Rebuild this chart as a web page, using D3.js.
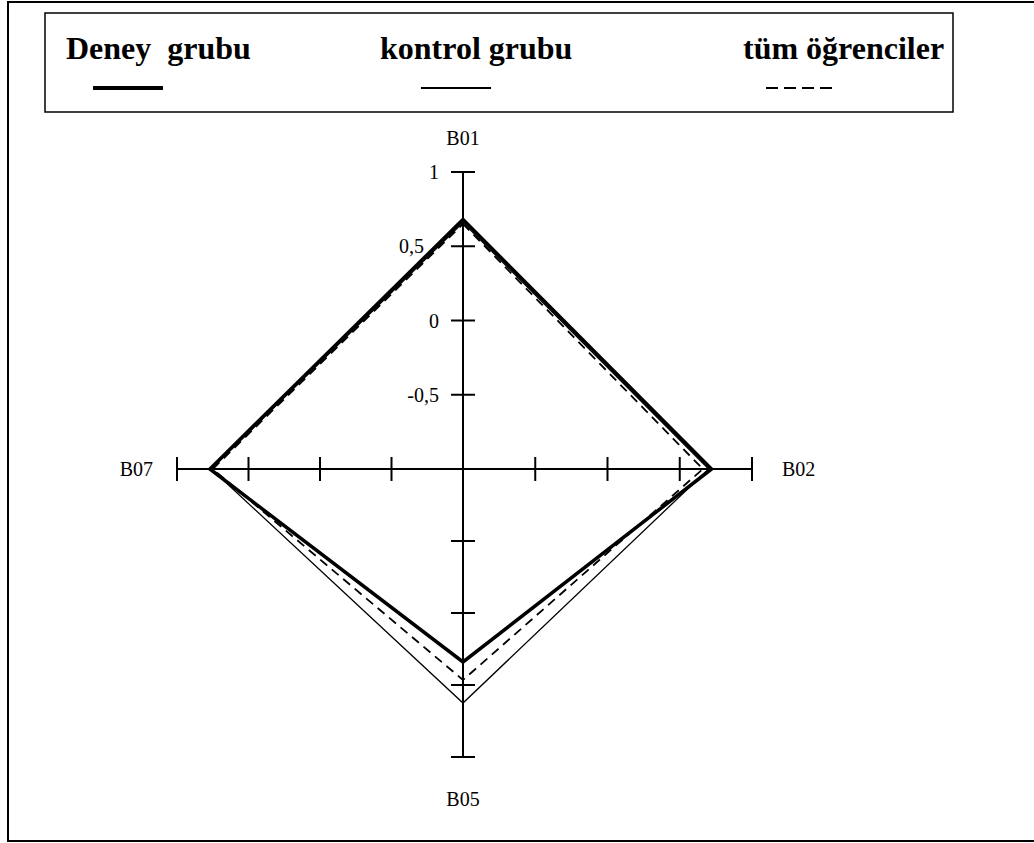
<!DOCTYPE html>
<html>
<head>
<meta charset="utf-8">
<script src="https://cdnjs.cloudflare.com/ajax/libs/d3/7.8.5/d3.min.js"></script>
<style>
  body { margin: 0; background: #fff; }
  text { font-family: "Liberation Serif", "Times New Roman", serif; fill: #000; }
</style>
</head>
<body>
<div id="chart"></div>
<script>
// data
var axesNames = ["B01", "B02", "B05", "B07"];
var seriesNames = ["Deney  grubu", "kontrol grubu", "tüm öğrenciler"];
var deney = [0.68, 0.72, 0.34, 0.77];
var kontrol = [0.66, 0.70, 0.625, 0.76];
var tum = [0.65, 0.66, 0.465, 0.75];
var tickValues = [-0.5, 0, 0.5, 1];
var tickLabels = ["-0,5", "0", "0,5", "1"];

var width = 1034, height = 843;
var cx = 463, cy = 469;
// axis lengths differ a little per direction in the original
var axisLen = [297, 289, 288, 286];
var angles = [0, 90, 180, 270];

var svg = d3.select("#chart").append("svg")
    .attr("width", width)
    .attr("height", height);

// outer frame
svg.append("rect")
    .attr("x", 8).attr("y", 2)
    .attr("width", 1040).attr("height", 839)
    .attr("fill", "none").attr("stroke", "#000").attr("stroke-width", 2);

// legend box
svg.append("rect")
    .attr("x", 45).attr("y", 13)
    .attr("width", 908).attr("height", 99)
    .attr("fill", "none").attr("stroke", "#000").attr("stroke-width", 1.5);

var legendItems = [
  { name: seriesNames[0], tx: 66, lx: 93, sw: 4, dash: null },
  { name: seriesNames[1], tx: 380, lx: 421, sw: 1.8, dash: null },
  { name: seriesNames[2], tx: 743, lx: 766, sw: 1.8, dash: "12,6" }
];
var leg = svg.append("g").selectAll("g")
    .data(legendItems)
    .enter().append("g");
leg.append("text")
    .attr("x", function(d) { return d.tx; })
    .attr("y", 59)
    .attr("font-size", 32)
    .attr("font-weight", "bold")
    .style("white-space", "pre")
    .text(function(d) { return d.name; });
leg.append("line")
    .attr("x1", function(d) { return d.lx; })
    .attr("x2", function(d) { return d.lx + 70; })
    .attr("y1", 88).attr("y2", 88)
    .attr("stroke", "#000")
    .attr("stroke-width", function(d) { return d.sw; })
    .attr("stroke-dasharray", function(d) { return d.dash; });

// one radial scale per axis, domain -1..1 from center outwards
var scales = axisLen.map(function(len) {
  return d3.scaleLinear().domain([-1, 1]).range([0, len]);
});
function pt(i, v) {
  var a = angles[i] * Math.PI / 180;
  var r = scales[i](v);
  return [cx + r * Math.sin(a), cy - r * Math.cos(a)];
}

var g = svg.append("g");

// axis lines with ticks
var allTicks = [-0.5, 0, 0.5, 1];
axesNames.forEach(function(name, i) {
  var end = pt(i, 1);
  g.append("line")
      .attr("x1", cx).attr("y1", cy)
      .attr("x2", end[0]).attr("y2", end[1])
      .attr("stroke", "#000").attr("stroke-width", 2);
  var vertical = (angles[i] % 180 == 0);
  allTicks.forEach(function(t) {
    var p = pt(i, t);
    g.append("line")
        .attr("x1", vertical ? p[0] - 12 : p[0])
        .attr("x2", vertical ? p[0] + 12 : p[0])
        .attr("y1", vertical ? p[1] : p[1] - 12)
        .attr("y2", vertical ? p[1] : p[1] + 12)
        .attr("stroke", "#000").attr("stroke-width", 2);
  });
});

// tick labels only on the top axis
g.selectAll(".tlab")
    .data(tickValues)
    .enter().append("text")
    .attr("class", "tlab")
    .attr("x", function(d, i) { return d == 0.5 ? 424 : 439; })
    .attr("y", function(d) { return pt(0, d)[1] + 7; })
    .attr("text-anchor", "end")
    .attr("font-size", 20)
    .text(function(d, i) { return tickLabels[i]; });

// axis names
var namePos = [[463, 145, "middle"], [782, 476, "start"], [463, 806, "middle"], [153, 476, "end"]];
axesNames.forEach(function(name, i) {
  g.append("text")
      .attr("x", namePos[i][0]).attr("y", namePos[i][1])
      .attr("text-anchor", namePos[i][2])
      .attr("font-size", 20)
      .text(name);
});

// series polygons
var series = [
  { vals: kontrol, sw: 1.3, dash: null },
  { vals: tum, sw: 1.8, dash: "9,6" },
  { vals: deney, sw: 3.5, dash: null }
];
var line = d3.line().curve(d3.curveLinearClosed);
g.selectAll(".series")
    .data(series)
    .enter().append("path")
    .attr("class", "series")
    .attr("d", function(s) { return line(s.vals.map(function(v, i) { return pt(i, v); })); })
    .attr("fill", "none")
    .attr("stroke", "#000")
    .attr("stroke-width", function(s) { return s.sw; })
    .attr("stroke-dasharray", function(s) { return s.dash; })
    .attr("stroke-linejoin", "miter");
</script>
</body>
</html>
